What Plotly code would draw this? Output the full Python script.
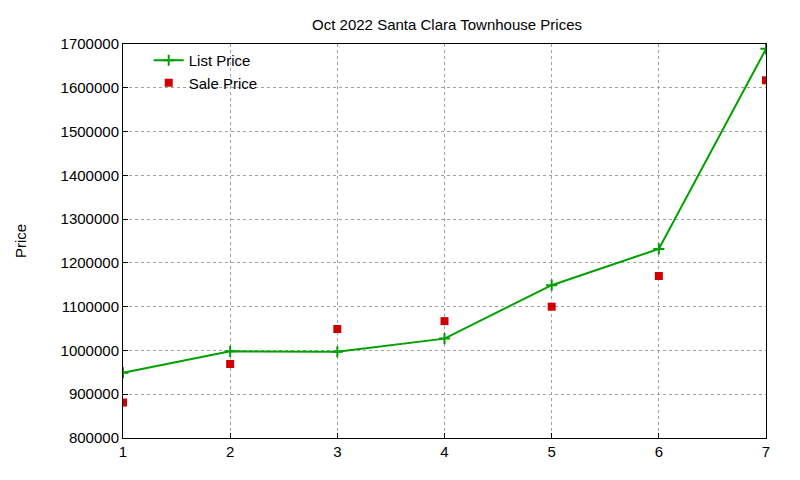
import plotly.graph_objects as go

x = [1, 2, 3, 4, 5, 6, 7]
list_price = [949000, 998000, 997000, 1027000, 1149000, 1232000, 1689000]
sale_price = [881000, 969000, 1049000, 1067000, 1100000, 1170000, 1617000]
y_ticks = list(range(800000, 1700001, 100000))

fig = go.Figure()
fig.add_trace(go.Scatter(x=x, y=list_price, mode="lines+markers", name="List Price",
                         line=dict(color="#00a000", width=2),
                         marker=dict(symbol="cross-thin", size=8, line=dict(color="#00a000", width=2))))
fig.add_trace(go.Scatter(x=x, y=sale_price, mode="markers", name="Sale Price",
                         marker=dict(symbol="square", size=8, color="#d00000")))

font = "Liberation Sans, Arial"
axis_common = dict(showgrid=True, gridcolor="#a0a0a0", griddash="dot", gridwidth=1,
                   showline=True, linecolor="black", mirror=True, ticks="inside",
                   ticklen=5, tickcolor="black", zeroline=False,
                   tickfont=dict(family=font, size=15, color="black"))
fig.update_xaxes(range=[1, 7], tickvals=x, **axis_common)
fig.update_yaxes(range=[800000, 1700000], tickvals=y_ticks, tickformat="d",
                 title=dict(text="Price", font=dict(family=font, size=15, color="black"), standoff=30),
                 **axis_common)
fig.update_layout(
    width=784, height=464,
    margin=dict(l=111, r=26, t=36, b=23),
    paper_bgcolor="white", plot_bgcolor="white",
    title=dict(text="Oct 2022 Santa Clara Townhouse Prices", x=0.56, y=0.975, xanchor="center", yanchor="top",
               font=dict(family=font, size=15, color="black")),
    legend=dict(x=0.04, y=1.0, xanchor="left", yanchor="top", bgcolor="rgba(0,0,0,0)",
                font=dict(family=font, size=15, color="black"), tracegroupgap=0),
    showlegend=True,
)
fig.write_html("out.html")
